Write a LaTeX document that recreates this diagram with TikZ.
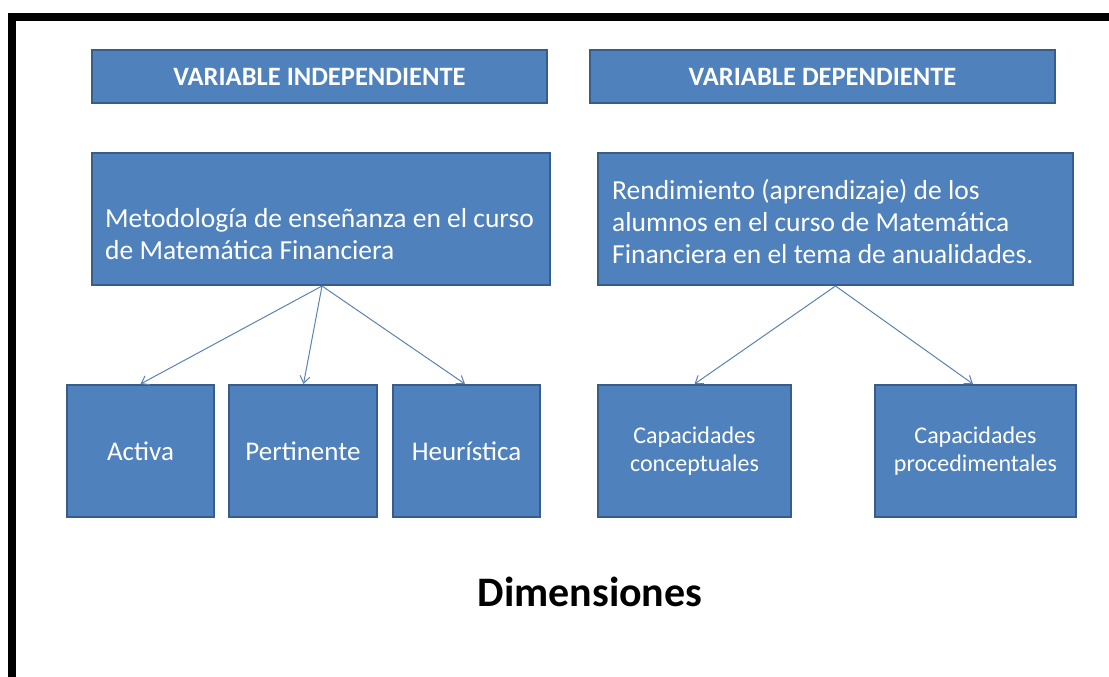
\documentclass[tikz,border=0pt]{standalone}
\usepackage{fontspec}
\setmainfont{Carlito}
\usetikzlibrary{arrows.meta}

\definecolor{boxblue}{HTML}{4F81BD}
\definecolor{boxedge}{HTML}{385D8A}
\definecolor{linkblue}{HTML}{5A82B4}

\tikzset{
	hdrbox/.style={draw=boxedge, line width=2pt, fill=boxblue, text=white, inner sep=0pt,
		minimum height=53pt, font=\fontsize{26.5}{30}\selectfont\bfseries},
	midbox/.style={draw=boxedge, line width=2pt, fill=boxblue, inner sep=0pt, minimum height=132pt},
	midtext/.style={text=white, inner sep=0pt, align=left, font=\fontsize{27.5}{32}\selectfont},
	dimbox/.style={draw=boxedge, line width=2pt, fill=boxblue, text=white, inner sep=0pt,
		minimum height=132pt, align=center},
	link/.style={draw=linkblue, line width=1pt, -{Straight Barb[length=7pt, width=10pt]}}
}

\begin{document}
\begin{tikzpicture}[x=1pt, y=-1pt]
		\useasboundingbox (0, 0) rectangle (1109, 677);
		% frame
		\draw[line width=8pt] (12, 677) -- (12, 17) -- (1109, 17);
		
		% headers
		\node[hdrbox, minimum width=455pt] (indep) at (319.5, 76.5) {VARIABLE INDEPENDIENTE};
		\node[hdrbox, minimum width=465pt] (dep) at (822.5, 76.5) {VARIABLE DEPENDIENTE};
		
		% variables
		\node[midbox, minimum width=458pt] (metodo) at (321, 219) {};
		\node[midbox, minimum width=475pt] (rendim) at (835.5, 219) {};
		\node[midtext, anchor=west] (metodotxt) at (105, 234)
			{Metodología de enseñanza en el curso\\de Matemática Financiera};
		\node[midtext, anchor=west] (rendimtxt) at (612, 222)
			{Rendimiento (aprendizaje) de los\\alumnos en el curso de Matemática\\Financiera en el tema de anualidades.};
		
		% dimensiones
		\node[dimbox, minimum width=147pt, font=\fontsize{27}{32}\selectfont] (activa) at (140.5, 451) {Activa};
		\node[dimbox, minimum width=148pt, font=\fontsize{27}{32}\selectfont] (pertin) at (303, 451) {Pertinente};
		\node[dimbox, minimum width=147pt, font=\fontsize{27}{32}\selectfont] (heur) at (466.5, 451) {Heurística};
		\node[dimbox, minimum width=193pt, font=\fontsize{24}{28}\selectfont] (concep) at (694.5, 451) {Capacidades\\conceptuales};
		\node[dimbox, minimum width=201pt, font=\fontsize{24}{28}\selectfont] (proced) at (975.5, 451) {Capacidades\\procedimentales};
		
		\coordinate (m0) at ([xshift=1pt]metodo.south);
		\draw[link] (m0) -- (activa.north);
		\draw[link] (m0) -- ([xshift=0.5pt]pertin.north);
		\draw[link] (m0) -- ([xshift=-1.5pt]heur.north);
		\draw[link] (rendim.south) -- (concep.north);
		\draw[link] (rendim.south) -- ([xshift=-2.5pt]proced.north);
		
		\node[font=\fontsize{42}{50}\selectfont\bfseries] (dimens) at (590, 592) {Dimensiones};
	\end{tikzpicture}
\end{document}
